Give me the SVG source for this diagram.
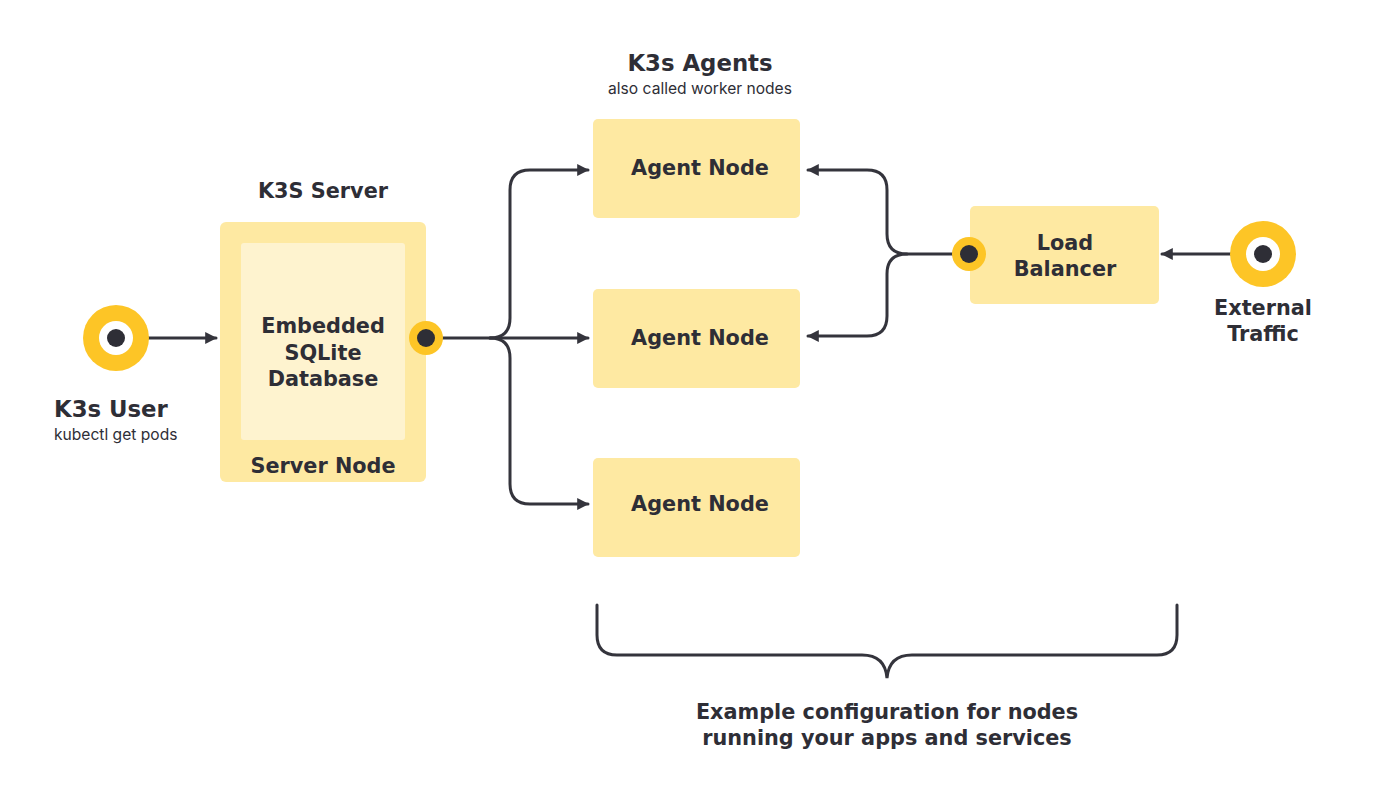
<svg xmlns="http://www.w3.org/2000/svg" width="1400" height="810" viewBox="0 0 1400 810">
<defs>
<style>
.t{font-family:"DejaVu Sans","Inter",sans-serif;font-weight:700;fill:#2e2e36;text-anchor:middle;font-size:20.8px}
.s{font-family:"Inter","DejaVu Sans",sans-serif;font-weight:400;fill:#2e2e36;font-size:15.6px}
.h{font-size:22.8px}
.box{fill:#fee9a2}
.ln{fill:none;stroke:#34343c;stroke-width:3;stroke-linecap:round}
.ring{fill:#fdc526}
.dot{fill:#2e2e36}
</style>
<marker id="ah" viewBox="0 0 10 10" refX="9" refY="5" markerWidth="12" markerHeight="12" markerUnits="userSpaceOnUse" orient="auto">
<path d="M0,0 L10,5 L0,10 z" fill="#34343c"/>
</marker>
</defs>
<rect width="1400" height="810" fill="#ffffff"/>

<g id="connectors">
<path class="ln" d="M116,338 H216" marker-end="url(#ah)"/>
<path class="ln" d="M426,338 H588" marker-end="url(#ah)"/>
<path class="ln" d="M490,338 Q510,338 510,318 V190 Q510,170 530,170 H588" marker-end="url(#ah)"/>
<path class="ln" d="M490,338 Q510,338 510,358 V484 Q510,504 530,504 H588" marker-end="url(#ah)"/>
<path class="ln" d="M969,254 H907 Q887,254 887,234 V190 Q887,170 867,170 H808" marker-end="url(#ah)"/>
<path class="ln" d="M907,254 Q887,254 887,274 V316 Q887,336 867,336 H808" marker-end="url(#ah)"/>
<path class="ln" d="M1263,254 H1162" marker-end="url(#ah)"/>
<path class="ln" d="M597,605 V635 Q597,655 617,655 H862 Q885,655 887,678 Q889,655 912,655 H1157 Q1177,655 1177,635 V605"/>
</g>

<g id="k3s-user">
<circle class="ring" cx="116" cy="338" r="33"/>
<circle cx="116" cy="338" r="17" fill="#fff"/>
<circle class="dot" cx="116" cy="338" r="9"/>
<text class="t h" x="54" y="417" style="text-anchor:start">K3s User</text>
<text class="s" x="54" y="440">kubectl get pods</text>
</g>

<g id="server-node">
<text class="t" x="323" y="198">K3S Server</text>
<rect class="box" x="220" y="222" width="206" height="260" rx="6"/>
<rect x="241" y="243" width="164" height="197" rx="3" fill="#fef3cf"/>
<text class="t" x="323" y="333">Embedded</text>
<text class="t" x="323" y="360">SQLite</text>
<text class="t" x="323" y="386">Database</text>
<text class="t" x="323" y="473">Server Node</text>
<circle class="ring" cx="426" cy="338" r="17"/>
<circle class="dot" cx="426" cy="338" r="9"/>
</g>

<g id="k3s-agents-label">
<text class="t h" x="700" y="71">K3s Agents</text>
<text class="s" x="700" y="94" style="text-anchor:middle">also called worker nodes</text>
</g>

<g id="agent-node-1">
<rect class="box" x="593" y="119" width="207" height="99" rx="5"/>
<text class="t" x="700" y="175">Agent Node</text>
</g>
<g id="agent-node-2">
<rect class="box" x="593" y="289" width="207" height="99" rx="5"/>
<text class="t" x="700" y="345">Agent Node</text>
</g>
<g id="agent-node-3">
<rect class="box" x="593" y="458" width="207" height="99" rx="5"/>
<text class="t" x="700" y="511">Agent Node</text>
</g>

<g id="load-balancer">
<rect class="box" x="970" y="206" width="189" height="98" rx="5"/>
<text class="t" x="1065" y="250">Load</text>
<text class="t" x="1065" y="276">Balancer</text>
<circle class="ring" cx="969" cy="254" r="17"/>
<circle class="dot" cx="969" cy="254" r="9"/>
</g>

<g id="external-traffic">
<circle class="ring" cx="1263" cy="254" r="33"/>
<circle cx="1263" cy="254" r="17" fill="#fff"/>
<circle class="dot" cx="1263" cy="254" r="9"/>
<text class="t" x="1263" y="315">External</text>
<text class="t" x="1263" y="341">Traffic</text>
</g>

<g id="bottom-label">
<text class="t" x="887" y="719">Example configuration for nodes</text>
<text class="t" x="887" y="745">running your apps and services</text>
</g>
</svg>
